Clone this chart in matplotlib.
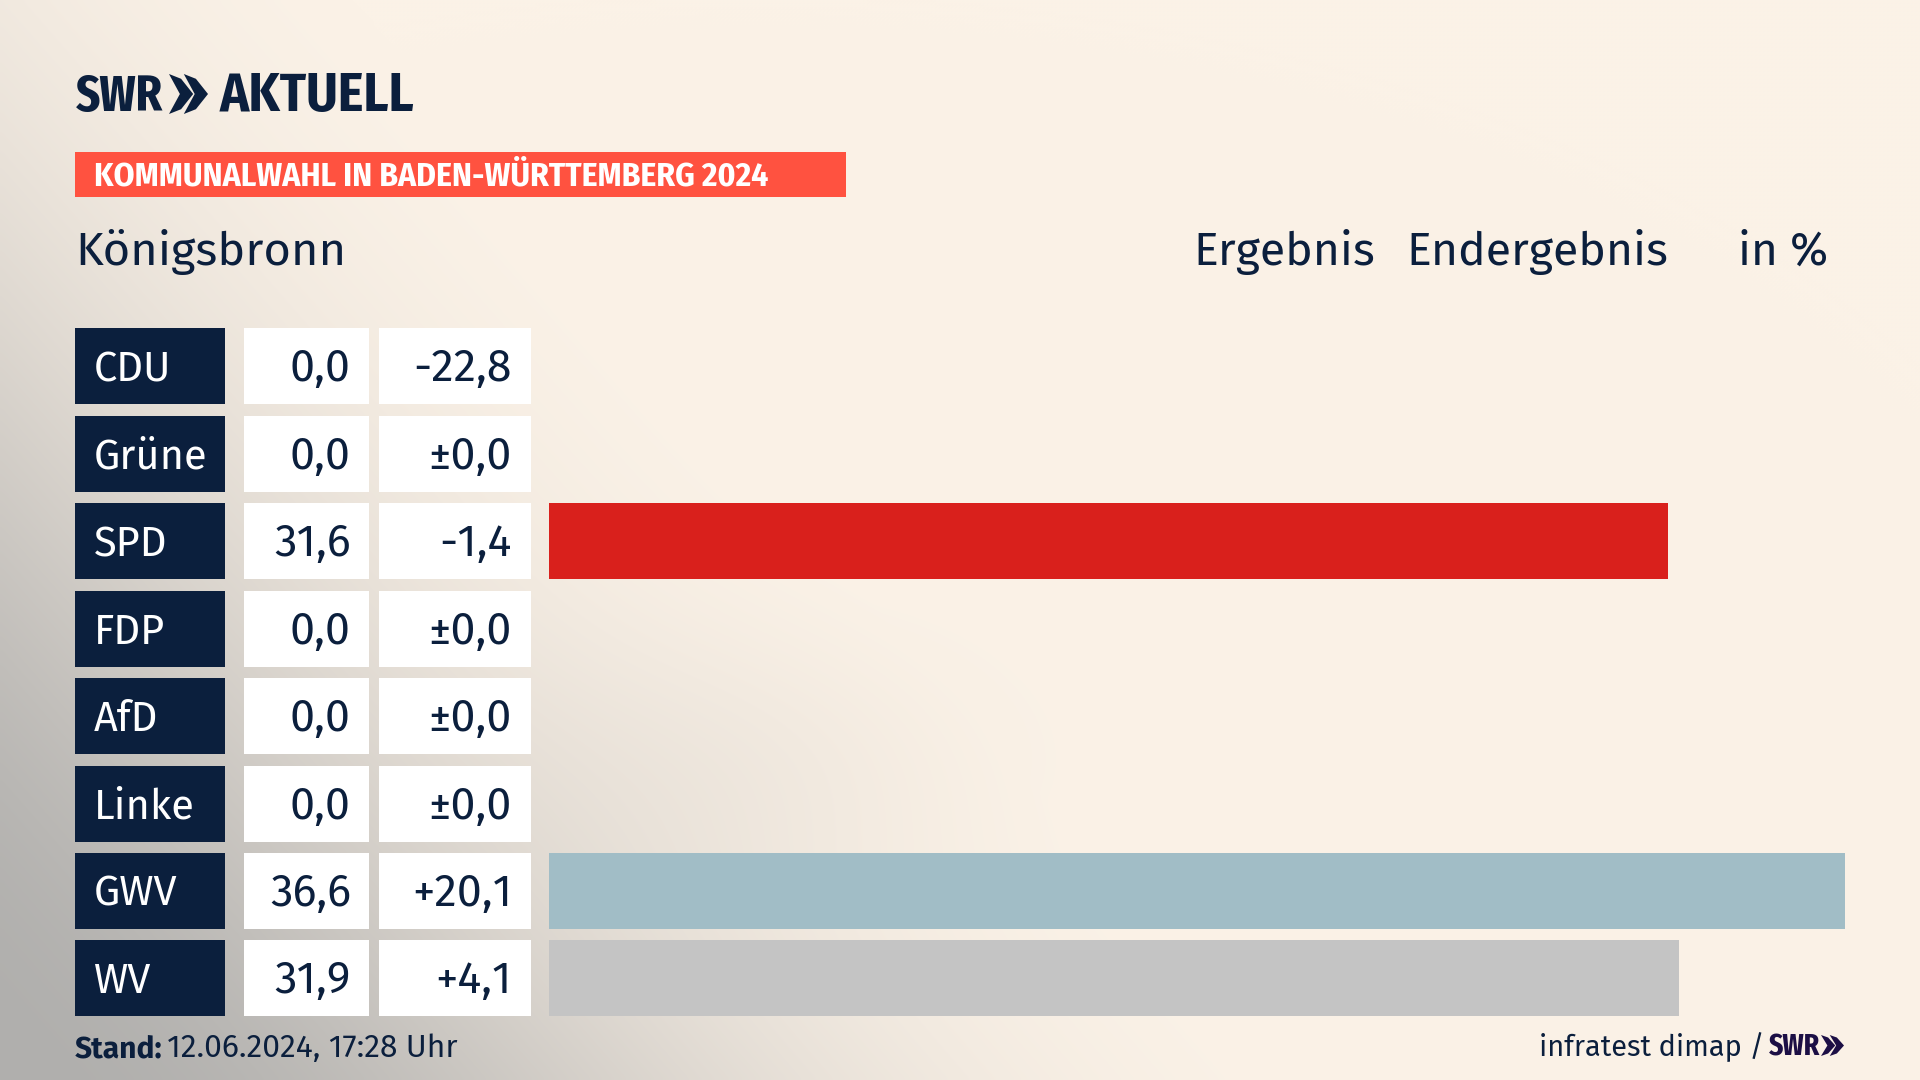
import numpy as np
import matplotlib
matplotlib.use("Agg")
import matplotlib.pyplot as plt
from matplotlib.patches import Rectangle, Polygon

parties = ["CDU", "Grüne", "SPD", "FDP", "AfD", "Linke", "GWV", "WV"]
results = [0.0, 0.0, 31.6, 0.0, 0.0, 0.0, 36.6, 31.9]
diffs = ["-22,8", "±0,0", "-1,4", "±0,0", "±0,0", "±0,0", "+20,1", "+4,1"]
bar_colors = ["#0A1E3C", "#4E9A3F", "#D9201C", "#F5D000", "#1E9BD7", "#B0307A", "#A1BDC6", "#C4C4C4"]

W, H = 1920, 1080
NAVY = "#0B1F3D"
FONT = ["Fira Sans", "Lato"]
COND = ["Fira Sans Condensed", "Lato"]
XCOND = ["Fira Sans Extra Condensed", "Fira Sans Condensed", "Lato"]

fig = plt.figure(figsize=(19.2, 10.8), dpi=100)
bg = fig.add_axes([0, 0, 1, 1])
bg.set_xlim(0, W); bg.set_ylim(H, 0); bg.axis("off")

# background gradient
yy, xx = np.mgrid[0:H:270j, 0:W:480j]
a = np.exp(-(xx / 710.0 + (H - yy) / 810.0) ** 2.1)
a = np.clip((a - 0.03) / 0.97, 0, 1)
a = a + 0.07 * np.exp(-(((xx - 760) / 230.0) ** 2 + ((yy - 760) / 130.0) ** 2))
a = np.clip(a, 0, 1)[..., None]
cream = np.array([251, 242, 231]) / 255
grey = np.array([176, 175, 173]) / 255
bg.imshow(cream * (1 - a) + grey * a, extent=(0, W, H, 0), aspect="auto", interpolation="bicubic", zorder=0)
bg.set_xlim(0, W); bg.set_ylim(H, 0)

def T(x, y, s, size, color=NAVY, ha="left", weight="normal", family=FONT):
    return bg.text(x, y, s, fontsize=size * 0.72, color=color, ha=ha, va="baseline", weight=weight, family=family, zorder=5)

def chevrons(x0, y0, w, h, color):
    cw = w * 0.62
    step = w - cw
    t = cw * 0.5
    for k in range(2):
        x = x0 + k * step
        bg.add_patch(Polygon([(x, y0), (x + t, y0 + h * 0.12), (x + cw, y0 + h / 2), (x + t, y0 + h * 0.88),
                              (x, y0 + h), (x + t * 0.9, y0 + h / 2)], closed=True, color=color, lw=0, zorder=5))

# logo
T(76, 111, "SWR", 51, weight="bold", family=XCOND)
chevrons(169, 74, 39, 40, NAVY)
T(220, 111, "AKTUELL", 54, weight="bold", family=COND)

# header
bg.add_patch(Rectangle((75, 152), 771, 45, color="#FF5240", lw=0, zorder=2))
T(94, 185, "KOMMUNALWAHL IN BADEN-WÜRTTEMBERG 2024", 33.5, color="white", weight="bold", family=COND)
T(75, 265, "Königsbronn", 47)
T(1193, 265, "Ergebnis", 46.5)
T(1406, 265, "Endergebnis", 46.5)
T(1738, 265, "in %", 46)

# rows
row_top = 328.4
row_step = 87.43
row_h = 76.0
for i, (p, r, d) in enumerate(zip(parties, results, diffs)):
    y = row_top + i * row_step
    bg.add_patch(Rectangle((75, y), 150, row_h, color=NAVY, lw=0, zorder=2))
    bg.add_patch(Rectangle((244, y), 125, row_h, color="white", lw=0, zorder=2))
    bg.add_patch(Rectangle((379, y), 152, row_h, color="white", lw=0, zorder=2))
    base = y + 53
    T(94, base, p, 41.5, color="white")
    T(351, base, f"{r:.1f}".replace(".", ","), 45, ha="right")
    T(512, base, d, 45, ha="right")

# bars
gap = row_step - row_h
top = row_top - gap / 2
ax = fig.add_axes([549 / W, 1 - (top + 8 * row_step) / H, (1845 - 549) / W, 8 * row_step / H])
ax.patch.set_alpha(0)
ax.barh(np.arange(len(parties)), results, height=row_h / row_step, color=bar_colors, linewidth=0)
ax.set_xlim(0, 36.6)
ax.set_ylim(len(parties) - 0.5, -0.5)
ax.axis("off")

# footer
T(75, 1057, "Stand:", 30, weight="bold")
T(167, 1057, "12.06.2024, 17:28 Uhr", 31.8)
T(1539, 1056, "infratest dimap /", 29)
T(1769, 1056, "SWR", 30, color="#1C0F45", weight="bold", family=XCOND)
chevrons(1821, 1035, 23, 21, "#1C0F45")

fig.savefig("out.png", dpi=100)
